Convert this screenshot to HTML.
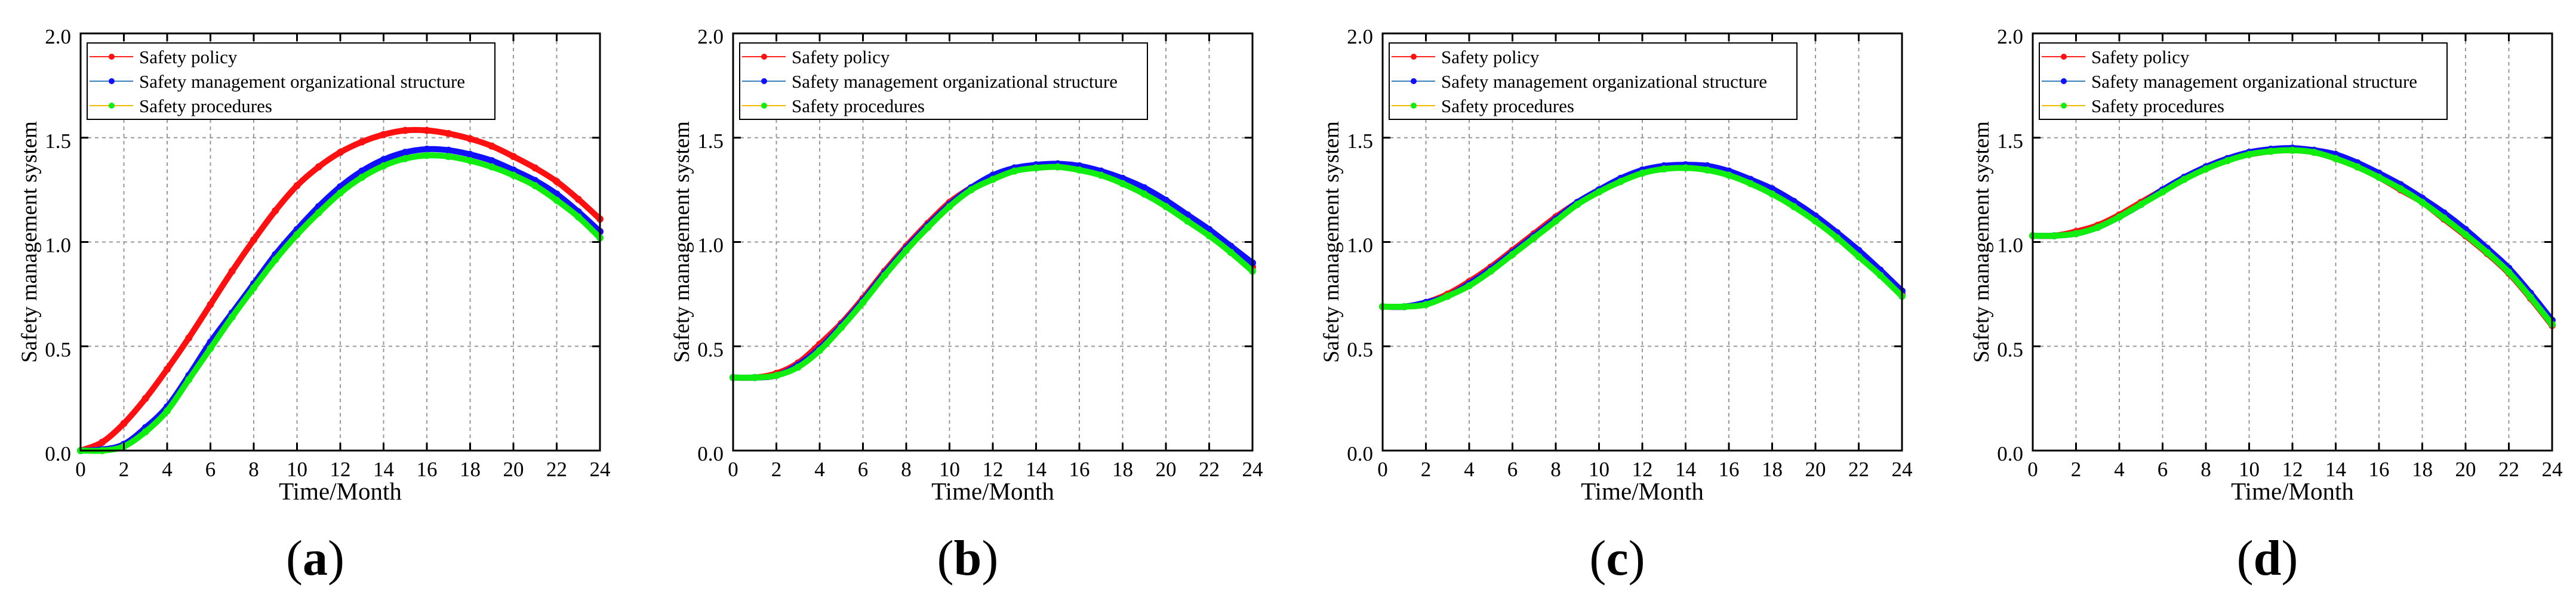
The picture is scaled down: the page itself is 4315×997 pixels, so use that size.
<!DOCTYPE html>
<html><head><meta charset="utf-8">
<style>
html,body{margin:0;padding:0;background:#fff;}
svg{display:block;font-family:"Liberation Serif","Times New Roman",serif;}
</style></head>
<body>
<svg id="fig" width="4315" height="997" viewBox="0 0 4315 997" xmlns="http://www.w3.org/2000/svg"></svg>
<script>
const months = [0,1,2,3,4,5,6,7,8,9,10,11,12,13,14,15,16,17,18,19,20,21,22,23,24];
const xTicks = [0,2,4,6,8,10,12,14,16,18,20,22,24];
const yTicks = [0,0.5,1,1.5,2];
const yTickLabels = ["0.0","0.5","1.0","1.5","2.0"];
const seriesNames = ["Safety policy","Safety management organizational structure","Safety procedures"];
const panelLabels = ["a","b","c","d"];

const aPolicy = [0,0.04,0.13,0.25,0.39,0.54,0.70,0.86,1.01,1.15,1.27,1.36,1.43,1.48,1.515,1.535,1.535,1.52,1.495,1.46,1.41,1.355,1.29,1.205,1.11];
const aStructure = [0,0.005,0.03,0.11,0.21,0.36,0.52,0.66,0.80,0.94,1.06,1.17,1.265,1.34,1.395,1.43,1.445,1.44,1.42,1.39,1.345,1.295,1.23,1.145,1.05];
const aProcedures = [0,0,0.02,0.09,0.19,0.34,0.49,0.64,0.78,0.915,1.035,1.14,1.235,1.31,1.365,1.40,1.415,1.41,1.39,1.36,1.32,1.27,1.20,1.12,1.02];

const bPolicy = [0.35,0.35,0.37,0.42,0.51,0.61,0.73,0.86,0.98,1.09,1.19,1.26,1.31,1.345,1.36,1.365,1.355,1.33,1.29,1.24,1.18,1.11,1.04,0.96,0.88];
const bStructure = [0.35,0.35,0.36,0.41,0.49,0.60,0.72,0.85,0.97,1.08,1.18,1.26,1.32,1.355,1.37,1.375,1.365,1.34,1.305,1.26,1.20,1.13,1.06,0.98,0.90];
const bProcedures = [0.35,0.35,0.36,0.40,0.48,0.59,0.71,0.84,0.96,1.07,1.17,1.25,1.30,1.34,1.355,1.36,1.345,1.32,1.28,1.23,1.17,1.10,1.03,0.95,0.86];

const cPolicy = [0.69,0.69,0.71,0.75,0.81,0.88,0.96,1.04,1.12,1.19,1.25,1.30,1.335,1.355,1.36,1.355,1.33,1.29,1.24,1.18,1.11,1.03,0.94,0.85,0.75];
const cStructure = [0.69,0.69,0.71,0.74,0.80,0.87,0.95,1.03,1.11,1.19,1.25,1.305,1.345,1.365,1.37,1.365,1.34,1.30,1.255,1.195,1.125,1.045,0.96,0.865,0.765];
const cProcedures = [0.69,0.69,0.70,0.74,0.79,0.86,0.94,1.02,1.10,1.18,1.24,1.29,1.33,1.35,1.355,1.345,1.32,1.28,1.23,1.17,1.10,1.02,0.93,0.84,0.74];

const dPolicy = [1.03,1.03,1.05,1.08,1.13,1.19,1.25,1.31,1.36,1.40,1.42,1.435,1.44,1.43,1.40,1.36,1.31,1.25,1.19,1.11,1.03,0.945,0.85,0.73,0.60];
const dStructure = [1.03,1.03,1.04,1.07,1.12,1.18,1.25,1.31,1.36,1.40,1.43,1.445,1.45,1.44,1.42,1.38,1.33,1.275,1.21,1.14,1.06,0.97,0.875,0.755,0.625];
const dProcedures = [1.03,1.03,1.04,1.07,1.12,1.18,1.24,1.30,1.35,1.39,1.42,1.435,1.44,1.43,1.40,1.36,1.31,1.255,1.19,1.115,1.035,0.95,0.855,0.735,0.605];

const panelData = [
  [aPolicy,aStructure,aProcedures],
  [bPolicy,bStructure,bProcedures],
  [cPolicy,cStructure,cProcedures],
  [dPolicy,dStructure,dProcedures]
];

const NS = "http://www.w3.org/2000/svg";
const svg = document.getElementById("fig");
const lefts = [135,1228,2316,3405];
const W = 870, TOP = 56, BOT = 755;
const markerColors = ["#ff1010","#1010ff","#10ee10"];
const legendLineColors = ["#ff2020","#3c7fc0","#f5b800"];

function mk(tag, attrs, parent){
  const e = document.createElementNS(NS, tag);
  for (const k in attrs) e.setAttribute(k, attrs[k]);
  (parent||svg).appendChild(e);
  return e;
}

function smoothPath(pts){
  let d = "M" + pts[0][0] + "," + pts[0][1];
  for (let i=0;i<pts.length-1;i++){
    const p0 = pts[Math.max(0,i-1)], p1 = pts[i], p2 = pts[i+1], p3 = pts[Math.min(pts.length-1,i+2)];
    const c1x = p1[0]+(p2[0]-p0[0])/6, c1y = p1[1]+(p2[1]-p0[1])/6;
    const c2x = p2[0]-(p3[0]-p1[0])/6, c2y = p2[1]-(p3[1]-p1[1])/6;
    d += " C"+c1x+","+c1y+" "+c2x+","+c2y+" "+p2[0]+","+p2[1];
  }
  return d;
}

panelData.forEach((series, pi) => {
  const L = lefts[pi];
  const xs = v => L + v/24*W;
  const ys = v => BOT - v/2*(BOT-TOP);
  const g = mk("g", {});
  
  

  xTicks.forEach(t => {
    if (t===0 || t===24) return;
    const l = mk("line",{x1:xs(t),x2:xs(t),y1:TOP,y2:BOT,stroke:"#999","stroke-width":2,"stroke-dasharray":"6,6"},g);
    
    
  });
  yTicks.forEach(t => {
    if (t===0 || t===2) return;
    const l = mk("line",{x1:L,x2:L+W,y1:ys(t),y2:ys(t),stroke:"#999","stroke-width":2,"stroke-dasharray":"6,6"},g);
    
    
  });

  series.forEach((vals, si) => {
    const pts = months.map((m,i)=>[xs(m), ys(vals[i])]);
    const path = mk("path",{d:smoothPath(pts),fill:"none",stroke:markerColors[si],"stroke-width":10,"stroke-linecap":"round"},g);
    
    
    pts.forEach(p => {
      const c = mk("circle",{cx:p[0],cy:p[1],r:6,fill:markerColors[si]},g);
      
      
    });
  });

  const fr = mk("rect",{x:L,y:TOP,width:W,height:BOT-TOP,fill:"none",stroke:"#000","stroke-width":3},g);
  
  

  xTicks.forEach(t => {
    mk("line",{x1:xs(t),x2:xs(t),y1:BOT,y2:BOT-13,stroke:"#000","stroke-width":3},g);
    mk("line",{x1:xs(t),x2:xs(t),y1:TOP,y2:TOP+13,stroke:"#000","stroke-width":3},g);
    const tx = mk("text",{x:xs(t),y:BOT+43,"font-size":35,"text-anchor":"middle",fill:"#000"},g);
    tx.textContent = t;
    
    
  });
  yTicks.forEach((t,i) => {
    mk("line",{x1:L,x2:L+13,y1:ys(t),y2:ys(t),stroke:"#000","stroke-width":3},g);
    mk("line",{x1:L+W,x2:L+W-13,y1:ys(t),y2:ys(t),stroke:"#000","stroke-width":3},g);
    const tx = mk("text",{x:L-16,y:ys(t)+17,"font-size":35,"text-anchor":"end",fill:"#000"},g);
    tx.textContent = yTickLabels[i];
    
    
  });

  const xt = mk("text",{x:L+W/2,y:BOT+82,"font-size":41,"text-anchor":"middle",fill:"#000"},g);
  xt.textContent = "Time/Month";
  
  

  const yt = mk("text",{x:0,y:0,"font-size":37,"text-anchor":"middle",fill:"#000",transform:"translate("+(L-74)+","+((TOP+BOT)/2)+") rotate(-90)"},g);
  yt.textContent = "Safety management system";
  
  

  const lg = mk("g",{},g);
  
  
  mk("rect",{x:L+11,y:TOP+16,width:683,height:128,fill:"#fff",stroke:"#000","stroke-width":2},lg);
  seriesNames.forEach((nm, si) => {
    const yy = TOP+39+si*41;
    const e = mk("g",{},lg);
    
    
    mk("line",{x1:L+15,x2:L+88,y1:yy,y2:yy,stroke:legendLineColors[si],"stroke-width":2},e);
    mk("circle",{cx:L+52,cy:yy,r:5,fill:markerColors[si]},e);
    const t = mk("text",{x:L+98,y:yy+11,"font-size":31,fill:"#000"},e);
    t.textContent = nm;
  });

  const pl = mk("text",{x:L+W/2-42,y:963,"font-size":84,"text-anchor":"middle",fill:"#000"},g);
  
  
  const s1 = mk("tspan",{},pl); s1.textContent = "(";
  const s2 = mk("tspan",{"font-weight":"bold"},pl); s2.textContent = panelLabels[pi];
  const s3 = mk("tspan",{},pl); s3.textContent = ")";
});
</script>
</body></html>
